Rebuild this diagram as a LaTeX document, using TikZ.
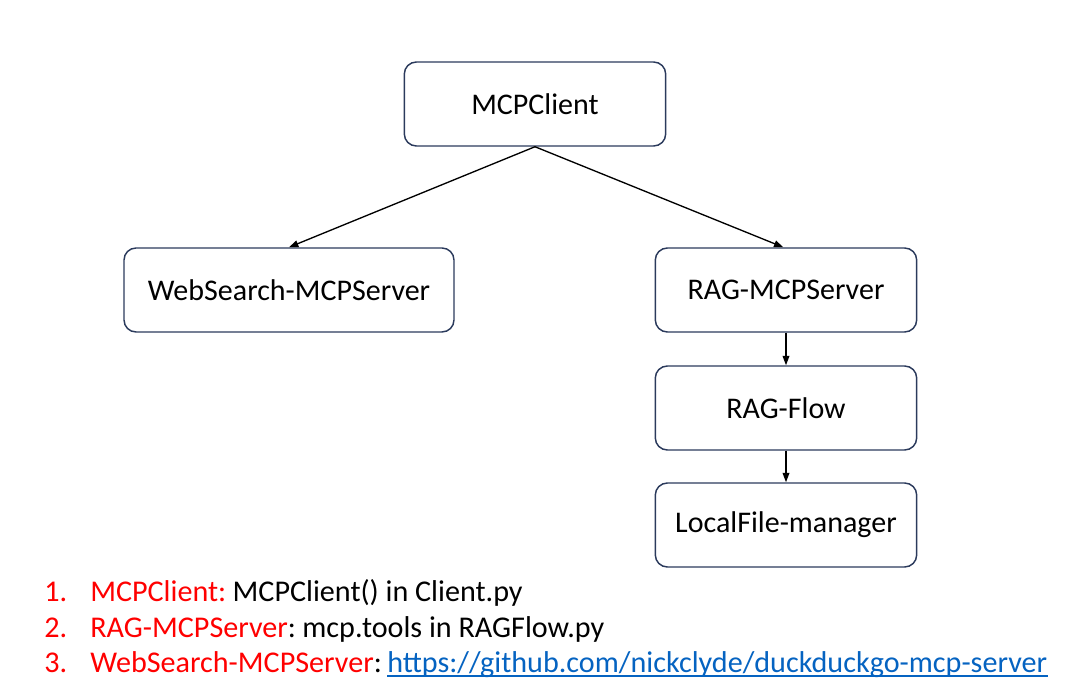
\documentclass[tikz,border=0pt]{standalone}
\usepackage{fontspec}
\setmainfont{Carlito}
\usepackage{xcolor}
\usetikzlibrary{positioning, arrows.meta}
\definecolor{boxline}{HTML}{2B3A5C}
\definecolor{listred}{HTML}{FF0000}
\definecolor{linkblue}{HTML}{0563C1}

\begin{document}
\begin{tikzpicture}[
    x=0.75pt, y=-0.75pt,
    box/.style={draw=boxline, rounded corners=9pt, line width=1.1pt, minimum width=196pt,
                minimum height=63pt, align=center, font=\fontsize{22.5}{27}\selectfont},
    arr/.style={-{Triangle[length=7pt, width=5pt]}, line width=1pt},
    item/.style={anchor=base west, inner sep=0pt, font=\fontsize{22.6}{27}\selectfont},
]
\useasboundingbox (0,0) rectangle (1076,698);

\node[box] (client) at (535,104) {MCPClient};
\node[box, minimum width=247.5pt] (websearch) at (289,290) {WebSearch-MCPServer};
\node[box] (ragserver) at (786,290) {RAG-MCPServer};
\node[box] (ragflow) at (786,408) {RAG-Flow};
\node[box] (localfile) at (786,525) {LocalFile-manager};

\draw[arr] (client.south) -- (websearch.north);
\draw[arr] (client.south) -- ([xshift=-2pt]ragserver.north);
\draw[arr] (ragserver) -- (ragflow);
\draw[arr] (ragflow) -- (localfile);

% notes below the diagram
\node[item, text=listred] (num1) at (44,602) {1.};
\node[item] (note1) at (90,602) {\textcolor{listred}{MCPClient:}\hspace{-2pt} MCPClient() in Client.py};
\node[item, text=listred] (num2) at (44,638) {2.};
\node[item] (note2) at (90,638) {\textcolor{listred}{RAG-MCPServer}:\hspace{-2pt} mcp.tools in RAGFlow.py};
\node[item, text=listred] (num3) at (44,673) {3.};
\node[item] (note3) at (90,673) {\textcolor{listred}{WebSearch-MCPServer}:};
\node[item, text=linkblue] (link) at (387,673) {https://github.com/nickclyde/duckduckgo-mcp-server};
\draw[linkblue, line width=1pt] ([yshift=-2.2pt]link.base west) -- ([yshift=-2.2pt]link.base east);
\end{tikzpicture}
\end{document}
